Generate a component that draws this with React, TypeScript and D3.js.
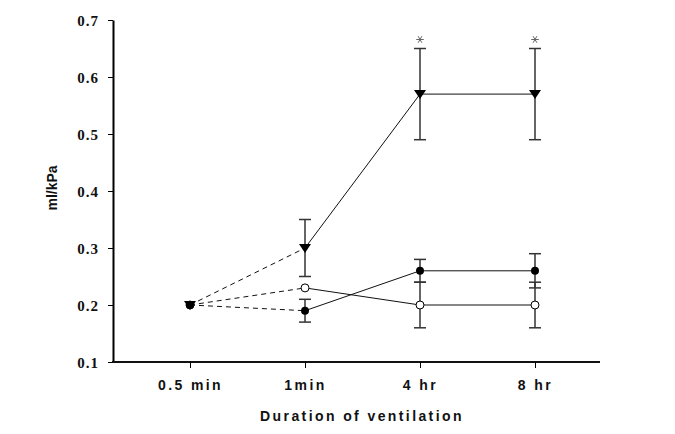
import { useRef, useEffect } from "react";
import * as d3 from "d3";

const categories = ["0.5 min", "1min", "4 hr", "8 hr"];
const yTicks = [0.1, 0.2, 0.3, 0.4, 0.5, 0.6, 0.7];

// triangle series (filled, pointing down)
const triMean = [0.2, 0.3, 0.57, 0.57];
const triHi = [null, 0.35, 0.65, 0.65];
const triLo = [null, 0.25, 0.49, 0.49];

// filled circle series
const dotMean = [0.2, 0.19, 0.26, 0.26];
const dotHi = [null, 0.21, 0.28, 0.29];
const dotLo = [null, 0.17, 0.24, 0.23];

// open circle series
const openMean = [0.2, 0.23, 0.2, 0.2];
const openHi = [null, null, 0.24, 0.24];
const openLo = [null, null, 0.16, 0.16];

const starred = ["4 hr", "8 hr"];

function App() {
  const ref = useRef<SVGSVGElement>(null);

  useEffect(() => {
    const svg = d3.select(ref.current);
    svg.selectAll("*").remove();

    const width = 675;
    const height = 434;
    const axisLeft = 113;
    const axisRight = 600;

    const x = d3.scalePoint().domain(categories).range([190, 535]);
    const y = d3.scaleLinear().domain([0.1, 0.7]).range([362, 20]);

    svg.attr("width", width).attr("height", height);

    // y axis
    const yAxis = d3
      .axisLeft(y)
      .tickValues(yTicks)
      .tickSize(5)
      .tickSizeOuter(0)
      .tickFormat(d3.format(".1f"));
    const gy = svg
      .append("g")
      .attr("transform", `translate(${axisLeft},0)`)
      .call(yAxis);
    gy.select(".domain").attr("stroke-width", 2);
    gy.selectAll(".tick line").attr("stroke-width", 1);
    gy.selectAll(".tick text")
      .attr("x", -14)
      .attr("dy", "0.36em")
      .style("font-family", "'Liberation Serif', 'DejaVu Serif', serif")
      .style("font-weight", "bold")
      .style("font-size", "15px")
      .style("letter-spacing", "1px")
      .attr("fill", "#111");

    // x axis
    svg
      .append("line")
      .attr("x1", axisLeft - 1)
      .attr("x2", axisRight)
      .attr("y1", y(0.1))
      .attr("y2", y(0.1))
      .attr("stroke", "#111")
      .attr("stroke-width", 2);
    const xAxis = d3.axisBottom(x).tickSize(6).tickSizeOuter(0);
    const gx = svg
      .append("g")
      .attr("transform", `translate(0,${y(0.1)})`)
      .call(xAxis);
    gx.select(".domain").remove();
    gx.selectAll(".tick text")
      .attr("y", 18)
      .style("font-family", "Arial, 'Liberation Sans', sans-serif")
      .style("font-weight", "bold")
      .style("font-size", "14px")
      .style("letter-spacing", "2.4px")
      .attr("fill", "#111");

    // axis titles
    svg
      .append("text")
      .attr("x", 362)
      .attr("y", 421)
      .attr("text-anchor", "middle")
      .style("font-family", "Arial, 'Liberation Sans', sans-serif")
      .style("font-weight", "bold")
      .style("font-size", "14px")
      .style("letter-spacing", "2.4px")
      .attr("fill", "#111")
      .text("Duration of ventilation");
    svg
      .append("text")
      .attr("transform", `translate(57,188) rotate(-90)`)
      .attr("text-anchor", "middle")
      .style("font-family", "Arial, 'Liberation Sans', sans-serif")
      .style("font-weight", "bold")
      .style("font-size", "14px")
      .attr("fill", "#111")
      .text("ml/kPa");

    const series = [
      { mean: triMean, hi: triHi, lo: triLo, kind: "tri" },
      { mean: dotMean, hi: dotHi, lo: dotLo, kind: "dot" },
      { mean: openMean, hi: openHi, lo: openLo, kind: "open" },
    ];

    const line = d3
      .line<number>()
      .x((_, i) => x(categories[i])!)
      .y((d) => y(d));

    series.forEach((s) => {
      // dashed first segment
      svg
        .append("path")
        .attr("d", line(s.mean.slice(0, 2)))
        .attr("fill", "none")
        .attr("stroke", "#111")
        .attr("stroke-width", 1)
        .attr("stroke-dasharray", "5,4");
      // solid rest
      svg
        .append("path")
        .attr("d", d3.line<number>().x((_, i) => x(categories[i + 1])!).y((d) => y(d))(s.mean.slice(1)))
        .attr("fill", "none")
        .attr("stroke", "#111")
        .attr("stroke-width", 1);

      // error bars
      s.mean.forEach((m, i) => {
        const cx = x(categories[i])!;
        const hi = s.hi[i];
        const lo = s.lo[i];
        [hi, lo].forEach((v) => {
          if (v == null) return;
          svg
            .append("line")
            .attr("x1", cx)
            .attr("x2", cx)
            .attr("y1", y(m))
            .attr("y2", y(v))
            .attr("stroke", "#333")
            .attr("stroke-width", 1.5);
          svg
            .append("line")
            .attr("x1", cx - 6)
            .attr("x2", cx + 6)
            .attr("y1", y(v))
            .attr("y2", y(v))
            .attr("stroke", "#333")
            .attr("stroke-width", 1.5);
        });
      });
    });

    // markers drawn on top
    const drawMarkers = (s: { mean: number[]; kind: string }) => {
      s.mean.forEach((m, i) => {
        const cx = x(categories[i])!;
        const cy = y(m);
        if (s.kind === "tri") {
          svg
            .append("path")
            .attr("d", `M${cx - 6},${cy - 4}L${cx + 6},${cy - 4}L${cx},${cy + 5}Z`)
            .attr("fill", "#000");
        } else if (s.kind === "dot") {
          svg
            .append("circle")
            .attr("cx", cx)
            .attr("cy", cy)
            .attr("r", 4)
            .attr("fill", "#000");
        } else {
          svg
            .append("circle")
            .attr("cx", cx)
            .attr("cy", cy)
            .attr("r", 4)
            .attr("fill", "#fff")
            .attr("stroke", "#000")
            .attr("stroke-width", 1);
        }
      });
    };
    drawMarkers(series[2]);
    drawMarkers(series[1]);
    drawMarkers(series[0]);

    // significance marks
    const star = d3.symbol(d3.symbolAsterisk, 40)();
    svg
      .selectAll(".star")
      .data(starred)
      .join("path")
      .attr("class", "star")
      .attr("d", star)
      .attr(
        "transform",
        (d) => `translate(${x(d)},${y(triHi[categories.indexOf(d)]!) - 9}) rotate(90)`
      )
      .attr("fill", "none")
      .attr("stroke", "#666")
      .attr("stroke-width", 1);
  }, []);

  return (
    <div style={{ position: "absolute", left: 0, top: 0, background: "#fff" }}>
      <svg ref={ref}></svg>
    </div>
  );
}

export default App;
